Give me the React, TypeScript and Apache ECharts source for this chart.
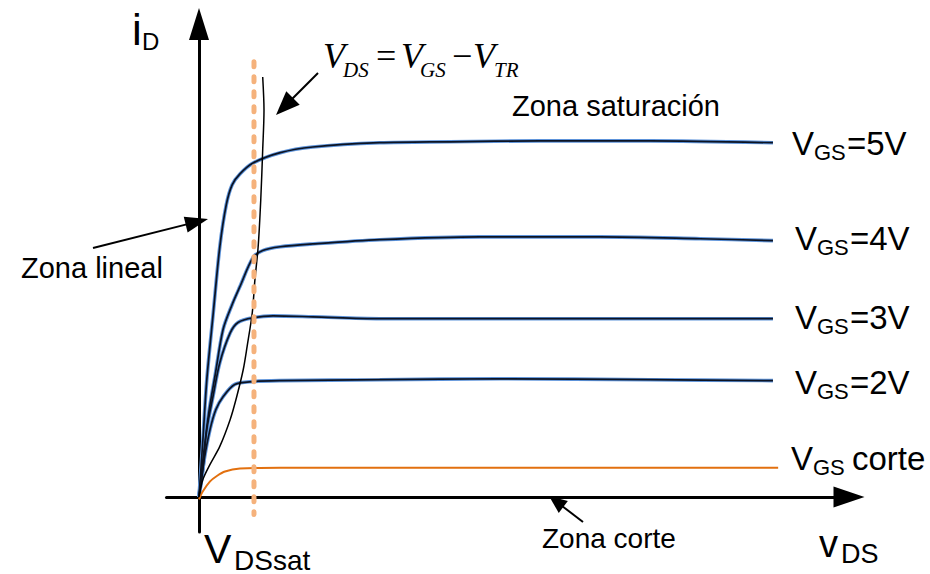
import React, { useEffect, useRef } from 'react';
import * as echarts from 'echarts';

// axis ranges (x: V_DS in volts, y: i_D in mA, schematic units)
const X_MIN = -0.5;
const X_MAX = 10;
const Y_MIN = -0.74;
const Y_MAX = 10;

// drain characteristics
const VGS5: number[][] = [[0,0],[0.06,1.21],[0.12,2.48],[0.22,3.9],[0.32,5.29],[0.42,6.18],[0.51,6.6],[0.63,6.83],[0.83,7.06],[1.25,7.28],[1.75,7.4],[2.78,7.49],[3.86,7.51],[5.25,7.53],[6.94,7.53],[8.83,7.49]];
const VGS4: number[][] = [[0,0],[0.06,0.79],[0.15,1.78],[0.25,2.59],[0.37,3.54],[0.51,4.07],[0.63,4.45],[0.83,5.06],[0.98,5.21],[1.25,5.29],[1.75,5.35],[2.78,5.44],[4.32,5.5],[6.17,5.5],[7.71,5.46],[8.83,5.42]];
const VGS3: number[][] = [[0,0],[0.06,0.58],[0.12,1.43],[0.22,2.16],[0.32,2.84],[0.48,3.47],[0.6,3.69],[0.83,3.79],[1.14,3.83],[1.75,3.81],[2.78,3.77],[4.63,3.77],[8.83,3.77]];
const VGS2: number[][] = [[0,0],[0.08,0.79],[0.17,1.43],[0.26,1.85],[0.37,2.12],[0.55,2.38],[0.83,2.44],[1.25,2.46],[2.78,2.48],[4.63,2.5],[6.94,2.48],[8.83,2.46]];
const CORTE: number[][] = [[0,-0.05],[0.06,0.12],[0.17,0.33],[0.28,0.45],[0.4,0.54],[0.63,0.6],[1.25,0.62],[2.78,0.62],[6.17,0.62],[8.91,0.62]];
// boundary V_DS = V_GS - V_TR
const BOUNDARY: number[][] = [[0,0],[0.06,0.37],[0.17,0.69],[0.32,1.07],[0.48,1.64],[0.58,2.12],[0.68,2.69],[0.74,3.18],[0.82,3.9],[0.86,4.59],[0.91,5.29],[0.95,6.28],[0.98,7.34],[1.0,8.18],[0.98,8.88]];
// V_DSsat marker
const VDSSAT_X = 0.846;
const VDSSAT_LINE: number[][] = [[VDSSAT_X, 9.2],[VDSSAT_X, -0.37]];

const SANS = '"Liberation Sans", Arial, Helvetica, sans-serif';
const SERIF = '"Liberation Serif", "Times New Roman", serif';

function txt(text: string, x: number, y: number, size: number, family = SANS, italic = false) {
  return {
    type: 'text', x, y, z: 100, silent: true,
    style: {
      text, fill: '#000', fontSize: size, fontFamily: family,
      fontStyle: italic ? 'italic' : 'normal',
      textAlign: 'left', textVerticalAlign: 'middle', align: 'left', verticalAlign: 'middle',
    },
  };
}

function arrow(x1: number, y1: number, x2: number, y2: number, len: number, w: number) {
  const dx = x2 - x1, dy = y2 - y1;
  const L = Math.hypot(dx, dy);
  const ux = dx / L, uy = dy / L;
  const bx = x2 - ux * len, by = y2 - uy * len;
  const px = -uy, py = ux;
  return [
    { type: 'line', z: 100, silent: true, shape: { x1, y1, x2: bx + ux * 2, y2: by + uy * 2 }, style: { stroke: '#000', lineWidth: 2 } },
    { type: 'polygon', z: 100, silent: true, shape: { points: [[x2, y2], [bx + px * w / 2, by + py * w / 2], [bx - px * w / 2, by - py * w / 2]] }, style: { fill: '#000' } },
  ];
}

function curve(name: string, data: number[][], glow: string, core: string, glowW: number, coreW: number, z: number) {
  const out: any[] = [];
  if (glow) {
    out.push({ name: name + '-glow', type: 'line', data, smooth: 0.3, showSymbol: false, silent: true, z, lineStyle: { color: glow, width: glowW } });
  }
  out.push({ name, type: 'line', data, smooth: 0.3, showSymbol: false, silent: true, z: z + 1, lineStyle: { color: core, width: coreW } });
  return out;
}

export default function App() {
  const ref = useRef<HTMLDivElement>(null);
  useEffect(() => {
    const chart = echarts.init(ref.current!, null, { renderer: 'svg' });
    const labelRows: [string, number, number][] = [
      ['=5V', 792, 143.5],
      ['=4V', 795, 238],
      ['=3V', 795, 317],
      ['=2V', 795, 382],
    ];
    const graphics: any[] = [];
    labelRows.forEach(([t, x, y]) => {
      graphics.push(txt('V', x, y, 33));
      graphics.push(txt('GS', x + 22, y + 9, 22));
      graphics.push(txt(t, x + 55, y, 33));
    });
    graphics.push(txt('V', 791, 458, 33));
    graphics.push(txt('GS', 813, 467, 22));
    graphics.push(txt('corte', 852, 458, 33));

    graphics.push(txt('i', 132, 29, 44));
    graphics.push(txt('D', 142, 41.5, 24));

    graphics.push(txt('v', 819, 544, 38));
    graphics.push(txt('DS', 841, 554, 27));

    graphics.push(txt('V', 204, 549, 41));
    graphics.push(txt('DSsat', 234, 560, 28));

    graphics.push(txt('Zona saturación', 512, 106, 29));
    graphics.push(txt('Zona lineal', 21, 267.5, 29));
    graphics.push(txt('Zona corte', 542, 538, 28));

    // formula
    graphics.push(txt('V', 323, 56.2, 36, SERIF, true));
    graphics.push(txt('DS', 343, 70, 21, SERIF, true));
    graphics.push(txt('=', 376, 56.2, 36, SERIF));
    graphics.push(txt('V', 401, 56.2, 36, SERIF, true));
    graphics.push(txt('GS', 420, 70, 21, SERIF, true));
    graphics.push(txt('\u2212', 452, 56.2, 36, SERIF));
    graphics.push(txt('V', 473, 56.2, 36, SERIF, true));
    graphics.push(txt('TR', 494, 70, 21, SERIF, true));

    graphics.push(...arrow(318, 73, 276, 115, 24, 19));
    graphics.push(...arrow(93, 248, 208, 219, 23, 16));
    graphics.push(...arrow(583, 522, 549, 496, 18, 15));

    const blueGlow = '#5d93da';
    const blueCore = '#0c1322';

    chart.setOption({
      animation: false,
      backgroundColor: '#fff',
      grid: { left: 166.5, top: 24, width: 682.5, height: 508, containLabel: false },
      xAxis: {
        type: 'value', min: X_MIN, max: X_MAX,
        axisLine: { show: true, onZero: true, symbol: ['none', 'triangle'], symbolSize: [21, 31], lineStyle: { color: '#000', width: 3 } },
        axisTick: { show: false }, axisLabel: { show: false }, splitLine: { show: false },
      },
      yAxis: {
        type: 'value', min: Y_MIN, max: Y_MAX,
        axisLine: { show: true, onZero: true, symbol: ['none', 'triangle'], symbolSize: [20, 32], lineStyle: { color: '#000', width: 3 } },
        axisTick: { show: false }, axisLabel: { show: false }, splitLine: { show: false },
      },
      series: [
        ...curve('VGS=5V', VGS5, blueGlow, blueCore, 3.6, 1.7, 10),
        ...curve('VGS=4V', VGS4, blueGlow, blueCore, 3.6, 1.7, 10),
        ...curve('VGS=3V', VGS3, blueGlow, blueCore, 3.6, 1.7, 10),
        ...curve('VGS=2V', VGS2, blueGlow, blueCore, 3.6, 1.7, 10),
        ...curve('VGS corte', CORTE, '', '#e2700f', 0, 2, 12),
        ...curve('VDS=VGS-VTR', BOUNDARY, '', '#000', 0, 1.5, 14),
        {
          name: 'VDSsat', type: 'line', data: VDSSAT_LINE, showSymbol: false, silent: true, z: 16,
          lineStyle: { color: '#f5b27c', width: 5, type: [5, 10], cap: 'round' },
        },
      ],
      graphic: graphics,
    });
    return () => chart.dispose();
  }, []);
  return <div ref={ref} style={{ position: 'fixed', left: 0, top: 0, width: 930, height: 574, background: '#fff' }} />;
}
